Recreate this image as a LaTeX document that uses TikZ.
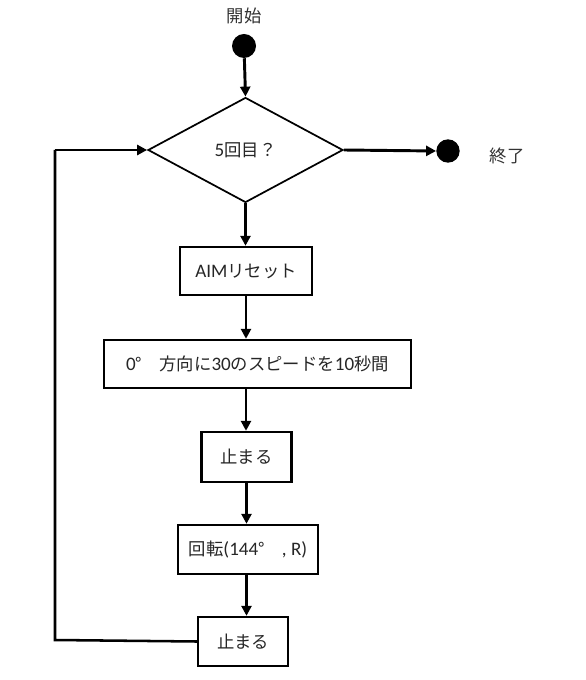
\documentclass[tikz,border=0pt]{standalone}
\usepackage{fontspec}
\setmainfont{Carlito}[Scale=1.1]
\newfontfamily\jp{Noto Sans CJK JP}
\usetikzlibrary{arrows.meta,shapes.geometric}
\tikzset{
  box/.style={draw, line width=1.8pt, inner sep=0pt, text=black!85},
  conn/.style={line width=2.2pt, -{Triangle[length=7.5pt,width=7.5pt]}},
  loopline/.style={line width=1.9pt},
  dot/.style={circle, fill=black, inner sep=0pt},
  lbl/.style={inner sep=0pt, text=black!80}
}
\begin{document}
\begin{tikzpicture}[x=0.75pt,y=-0.75pt,font=\fontsize{13}{15}\selectfont]
\useasboundingbox[fill=white] (0,0) rectangle (585,680);

\node[lbl] (startlbl) at (244,16) {\jp 開始};
\node[dot, minimum size=18pt] (start) at (244,46) {};
\node[diamond, draw, line width=1.3pt, inner sep=0pt, minimum width=146.25pt, minimum height=78.75pt, text=black!85] (dia) at (245.5,150) {5{\jp 回目？}};
\node[dot, minimum size=17.5pt] (stop) at (448,151) {};
\node[lbl] (stoplbl) at (507,156) {\jp 終了};

\node[box, minimum width=99pt, minimum height=36pt] (b1) at (246,271) {AIM{\jp リセット}};
\node[box, minimum width=230.25pt, minimum height=36pt] (b2) at (257.5,364) {0{\jp °　方向に}30{\jp のスピードを}10{\jp 秒間}\hspace{6pt}};
\node[box, minimum width=67.5pt, minimum height=37.5pt] (b3) at (246.5,457) {\jp 止まる};
\node[box, minimum width=105pt, minimum height=36.75pt] (b4) at (248,549.5) {{\jp 回転}(144{\jp °　}, R)};
\node[box, minimum width=67.5pt, minimum height=36.75pt] (b5) at (243,641.5) {\jp 止まる};

\coordinate (c1) at (55,640);
\coordinate (c2) at (55,150);

\draw[conn] (start) -- (dia.north);
\draw[conn] (dia.east) -- (stop.west);
\draw[conn] (dia.south) -- (dia.south |- b1.north);
\draw[conn] (b1.south) -- (b1.south |- b2.north);
\draw[conn] (b1.south |- b2.south) -- (b1.south |- b3.north);
\draw[conn] (b3.south) -- (b3.south |- b4.north);
\draw[conn] (b3.south |- b4.south) -- (b3.south |- b5.north);
\draw[loopline] (b5.west) -- (c1) -- (c2);
\draw[conn] (c2) -- (dia.west);
\end{tikzpicture}
\end{document}
